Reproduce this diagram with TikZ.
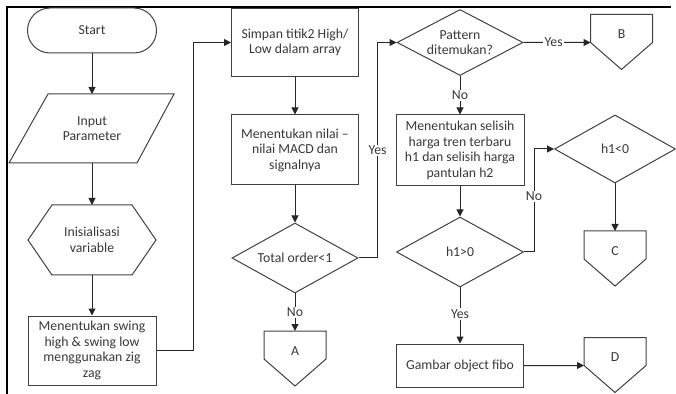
\documentclass[tikz,border=0pt]{standalone}
\usepackage{fontspec}
\setmainfont{Carlito}
\usetikzlibrary{shapes.geometric,shapes.misc,arrows.meta,calc}
\newcommand\offtxt[1]{\raisebox{-8.3pt}[0pt][0pt]{#1}}
\begin{document}
\begin{tikzpicture}[x=0.8pt,y=-0.8pt,
  every node/.style={font=\fontsize{11}{12.4}\selectfont, text=black!78},
  outl/.style={draw=black!75, line width=0.8pt},
  boxn/.style={outl, rectangle, inner sep=0pt, align=center},
  dia/.style={outl, diamond, aspect=1.9, inner sep=0pt, align=center},
  plain/.style={inner sep=0pt, outer sep=0pt, align=center},
  offp/.style={plain, minimum width=49.6pt, minimum height=22.4pt, anchor=north},
  conn/.style={draw=black!85, line width=0.8pt, -{Triangle[length=5.6pt,width=5.6pt]}},
  lbl/.style={fill=white, inner sep=1pt},
]
\useasboundingbox (0,0) rectangle (676,394);
% frame
\draw[line width=1.6pt, black] (7,394) -- (7,7) -- (671,7);

% left column
\node[outl, rounded rectangle, minimum width=103.2pt, minimum height=36pt, inner sep=0pt] (start) at (92,30.5) {Start};
\node[plain, minimum width=72pt, minimum height=55.2pt] (inp) at (92,128.5) {Input\\Parameter};
\draw[outl] (48,94) -- (174,94) -- (137,163) -- (9,163) -- cycle;
\node[plain, minimum width=64pt, minimum height=56pt] (hex) at (92,240) {Inisialisasi\\variable};
\draw[outl] (28,240) -- (52,205) -- (132,205) -- (156,240) -- (132,275) -- (52,275) -- cycle;
\node[boxn, minimum width=102.4pt, minimum height=55.2pt] (swing) at (92,350.5) {Menentukan swing\\high \& swing low\\menggunakan zig\\zag};

% middle column
\node[boxn, minimum width=101.6pt, minimum height=54.4pt] (simpan) at (295,42.5) {Simpan titik2 High/\\Low dalam array};
\node[boxn, minimum width=101.6pt, minimum height=56pt] (macd) at (295,150) {Menentukan nilai --\\nilai MACD dan\\signalnya};
\node[dia, minimum width=100.8pt, minimum height=56pt] (total) at (295,258) {Total order<1};
\node[offp] (offA) at (295,331) {\offtxt{A}};
\draw[outl] (offA.north west) -- (offA.north east) -- (offA.south east) -- ($(offA.south)+(0,27)$) -- (offA.south west) -- cycle;

% right columns
\node[dia, minimum width=100.8pt, minimum height=52.8pt] (pattern) at (460,42.5) {Pattern\\ditemukan?};
\node[offp] (offB) at (621.5,14.5) {\offtxt{B}};
\draw[outl] (offB.north west) -- (offB.north east) -- (offB.south east) -- ($(offB.south)+(0,27)$) -- (offB.south west) -- cycle;
\node[boxn, minimum width=102.4pt, minimum height=56.8pt] (selisih) at (460,150.5) {Menentukan selisih\\harga tren terbaru\\h1 dan selisih harga\\pantulan h2};
\node[dia, minimum width=101.6pt, minimum height=56pt] (h1gt) at (460,252) {h1>0};
\node[dia, minimum width=96.8pt, minimum height=54.4pt] (h1lt) at (615,149) {h1<0};
\node[offp] (offC) at (615,231) {\offtxt{C}};
\draw[outl] (offC.north west) -- (offC.north east) -- (offC.south east) -- ($(offC.south)+(0,27)$) -- (offC.south west) -- cycle;
\node[boxn, minimum width=101.6pt, minimum height=34.4pt] (gambar) at (460,365.5) {Gambar object fibo};
\node[offp] (offD) at (615,337.5) {\offtxt{D}};
\draw[outl] (offD.north west) -- (offD.north east) -- (offD.south east) -- ($(offD.south)+(0,27)$) -- (offD.south west) -- cycle;

% connectors
\draw[conn] (start.south) -- (inp.north);
\draw[conn] (inp.south) -- (hex.north);
\draw[conn] (hex.south) -- (swing.north);
\draw[conn] (swing.east) -- ++(37,0) |- (simpan.west);
\draw[conn] (simpan.south) -- (macd.north);
\draw[conn] (macd.south) -- (total.north);
\draw[conn] (total.east) -- ++(19,0) |- node[lbl,pos=0.25]{Yes} (pattern.west);
\draw[conn] (total.south) -- node[lbl]{No} (offA.north);
\draw[conn] (pattern.east) -- node[lbl,pos=0.45]{Yes} (offB.south west);
\draw[conn] (pattern.south) -- node[lbl]{No} (selisih.north);
\draw[conn] (selisih.south) -- (h1gt.north);
\draw[conn] (h1gt.east) -- ++(10,0) |- node[lbl,pos=0.27]{No} (h1lt.west);
\draw[conn] (h1lt.south) -- (offC.north);
\draw[conn] (h1gt.south) -- node[lbl,pos=0.47]{Yes} (gambar.north);
\draw[conn] (gambar.east) -- (offD.south west);
\end{tikzpicture}
\end{document}
